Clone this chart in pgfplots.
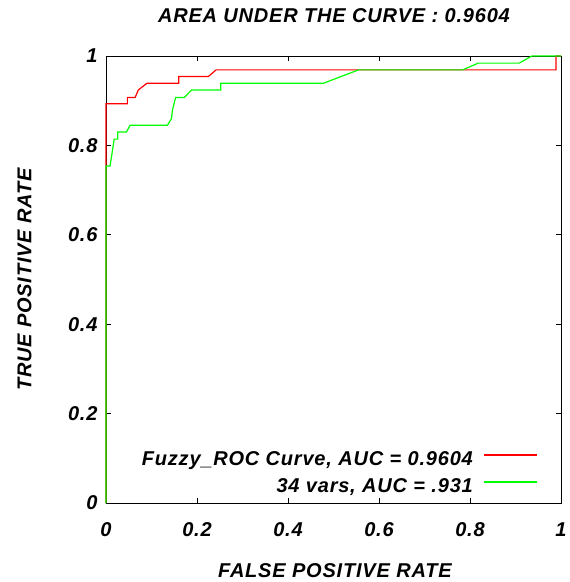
\documentclass[border=0pt]{standalone}
\usepackage{pgfplots}
\pgfplotsset{compat=1.18}
\usepackage{fontspec}
\setmainfont{Liberation Sans}[LetterSpace=4]
\newcommand{\gfont}{\bfseries\itshape\fontsize{20bp}{24bp}\selectfont}
\begin{document}
\begin{tikzpicture}
\begin{axis}[
    at={(0,0)}, anchor=south west,
    scale only axis, width=455bp, height=447bp,
    xmin=0, xmax=1, ymin=0, ymax=1,
    xtick={0,0.2,...,1}, ytick={0,0.2,...,1},
    tick align=inside, major tick length=5bp,
    axis line style={line width=0.8bp},
    every tick/.style={black, line width=0.6bp},
    /pgf/number format/assume math mode=true,
    ticklabel style={font=\gfont},
    xticklabel style={yshift=-16bp},
    yticklabel style={xshift=-5bp},
    clip=false,
    title={AREA UNDER THE CURVE : 0.9604},
    title style={font=\gfont, at={(axis description cs:0.501,1.062)}, anchor=base},
    xlabel={FALSE POSITIVE RATE},
    xlabel style={font=\gfont, at={(axis description cs:0.503,-0.166)}, anchor=base},
    ylabel={TRUE POSITIVE RATE},
    ylabel style={font=\gfont, at={(axis description cs:-0.179,0.5)}, anchor=center},
    legend plot pos=right,
    legend cell align=right,
    legend image code/.code={\draw (0bp,5.5bp) -- (53bp,5.5bp);},
    legend style={font=\gfont, draw=none, fill=none, inner sep=0bp,
        nodes={text height=15bp, text depth=5bp, inner ysep=0bp, inner xsep=6bp},
        row sep=7bp, column sep=5bp,
        at={(axis cs:0.95,0.012)}, anchor=south east},
]
\addplot[red, line width=1.2bp] coordinates {
(0,0) (0,0.893) (0.047,0.893) (0.047,0.907) (0.064,0.907) (0.071,0.924)
(0.090,0.939) (0.160,0.939) (0.160,0.954) (0.225,0.954) (0.242,0.969)
(0.989,0.969) (0.989,1) (1,1)};
\addlegendentry{Fuzzy\_ROC Curve, AUC = 0.9604}
\addplot[green, line width=1.2bp] coordinates {
(0,0) (0,0.754) (0.009,0.754) (0.018,0.814) (0.026,0.814) (0.026,0.830)
(0.045,0.830) (0.053,0.845) (0.135,0.845) (0.144,0.860) (0.146,0.879)
(0.153,0.907) (0.172,0.907) (0.188,0.924) (0.252,0.924) (0.252,0.939)
(0.478,0.939) (0.555,0.969) (0.784,0.969) (0.818,0.984) (0.908,0.984)
(0.936,1) (1,1)};
\addlegendentry{34 vars, AUC = .931}
\end{axis}
\pgfresetboundingbox
\path[use as bounding box] (-106bp,-79bp) rectangle (464bp,503bp);
\end{tikzpicture}
\end{document}
